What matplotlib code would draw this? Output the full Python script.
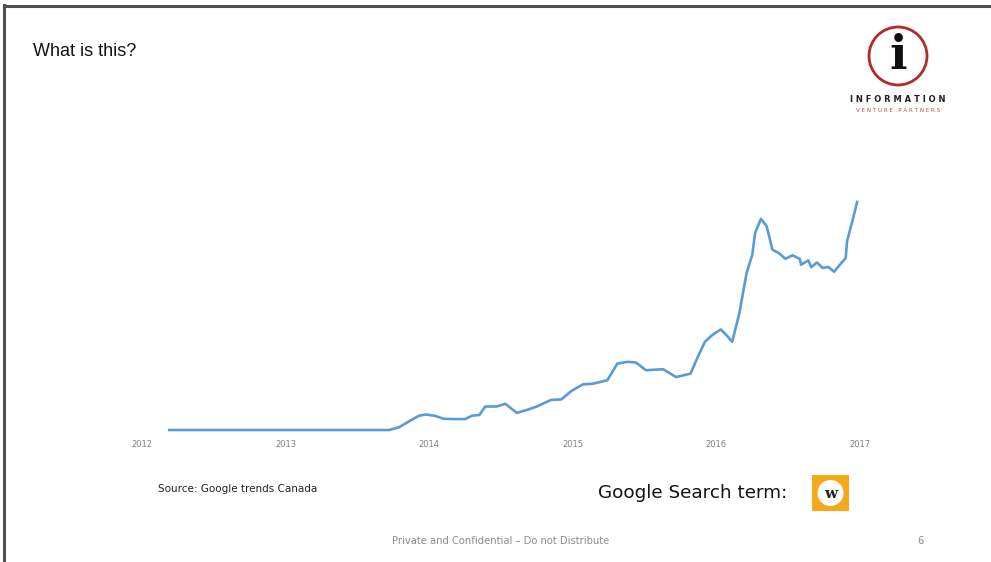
import matplotlib.pyplot as plt
from matplotlib.patches import Ellipse, Rectangle
from matplotlib.lines import Line2D

# Google Trends Canada, interest over time (0-100)
years = [2012, 2013, 2014, 2015, 2016, 2017]
dates = [2012.19, 2013.55, 2013.72, 2013.79, 2013.86, 2013.93, 2013.98, 2014.04,
         2014.10, 2014.18, 2014.25, 2014.30, 2014.35, 2014.39, 2014.47, 2014.53,
         2014.61, 2014.69, 2014.75, 2014.80, 2014.85, 2014.92, 2014.99, 2015.07,
         2015.14, 2015.24, 2015.31, 2015.38, 2015.44, 2015.51, 2015.58, 2015.63,
         2015.72, 2015.77, 2015.82, 2015.87, 2015.92, 2015.97, 2016.03, 2016.07,
         2016.11, 2016.16, 2016.21, 2016.25, 2016.27, 2016.31, 2016.35, 2016.39,
         2016.44, 2016.48, 2016.53, 2016.58, 2016.59, 2016.64, 2016.66, 2016.70,
         2016.74, 2016.78, 2016.82, 2016.86, 2016.90, 2016.91, 2016.95, 2016.98]
interest = [0, 0, 0, 1.2, 3.8, 6.3, 6.8, 6.2,
            4.9, 4.8, 4.8, 6.3, 6.6, 10.3, 10.3, 11.5,
            7.5, 9.0, 10.3, 11.8, 13.2, 13.4, 17.1, 20.0,
            20.3, 21.8, 29.1, 29.9, 29.6, 26.2, 26.5, 26.6,
            23.2, 24.0, 24.7, 32.0, 38.7, 41.6, 44.1, 41.6,
            38.7, 51.2, 68.8, 76.9, 86.5, 92.6, 89.4, 79.1,
            77.4, 75.1, 76.6, 75.1, 72.5, 74.4, 71.4, 73.5,
            71.1, 71.5, 69.4, 72.5, 75.4, 82.8, 92.4, 100]

W, H = 991, 562
fig = plt.figure(figsize=(W / 100, H / 100), dpi=100)
fig.patch.set_facecolor('white')


def px(x, y):
    # pixel position (from top-left) to figure fraction
    return x / W, 1 - y / H


# slide frame (top and left edges only)
fig.add_artist(Line2D([4 / W, 4 / W], [0, 1 - 5 / H], color='#505050', lw=2.2))
fig.add_artist(Line2D([4 / W, 1], [1 - 6 / H, 1 - 6 / H], color='#505050', lw=2.2))

ax = fig.add_axes([142 / W, 1 - 430 / H, 718 / W, 228 / H])
ax.plot(dates, interest, color='#5b9bd5', lw=1.9, clip_on=False, solid_joinstyle='round')
ax.set_xlim(2012, 2017)
ax.set_ylim(0, 100)
ax.set_xticks(years)
ax.set_xticklabels([str(y) for y in years])
ax.set_yticks([])
ax.tick_params(axis='x', length=0, pad=7, labelsize=6, labelcolor='#808080')
for s in ax.spines.values():
    s.set_visible(False)

fig.text(*px(33, 51), 'What is this?', fontsize=13, family='Liberation Sans',
         va='center', ha='left', color='#111111')

# logo
fig.add_artist(Ellipse(px(898, 56), 58 / W, 58 / H, transform=fig.transFigure,
                       fill=False, ec='#b22a2a', lw=2.0))
fig.text(*px(898, 56), 'i', fontsize=33, fontweight='bold', family='DejaVu Serif',
         ha='center', va='center', color='#111111')
fig.text(*px(898, 99), 'I N F O R M A T I O N', fontsize=6, fontweight='bold',
         ha='center', va='center', color='#222222')
fig.text(*px(898, 111), 'V E N T U R E   P A R T N E R S', fontsize=4.1,
         ha='center', va='center', color='#c0504d')

fig.text(*px(158, 489), 'Source: Google trends Canada', fontsize=7.5,
         ha='left', va='center', color='#222222')
fig.text(*px(598, 493), 'Google Search term:', fontsize=13.2,
         ha='left', va='center', color='#111111')

# search term badge
fig.add_artist(Rectangle(px(812, 511), 37 / W, 36 / H, transform=fig.transFigure,
                         fc='#f5a81c', ec='none'))
fig.add_artist(Ellipse(px(830.5, 493), 26 / W, 26 / H, transform=fig.transFigure,
                       fc='white', ec='none'))
fig.text(*px(830.5, 494), 'w', fontsize=11, fontweight='bold', family='DejaVu Serif',
         ha='center', va='center', color='#222222')

fig.text(*px(501, 541), 'Private and Confidential \u2013 Do not Distribute', fontsize=7.2,
         ha='center', va='center', color='#8c8c8c')
fig.text(*px(920, 541), '6', fontsize=7.2, ha='center', va='center', color='#8c8c8c')

fig.savefig('out.png', dpi=100)
